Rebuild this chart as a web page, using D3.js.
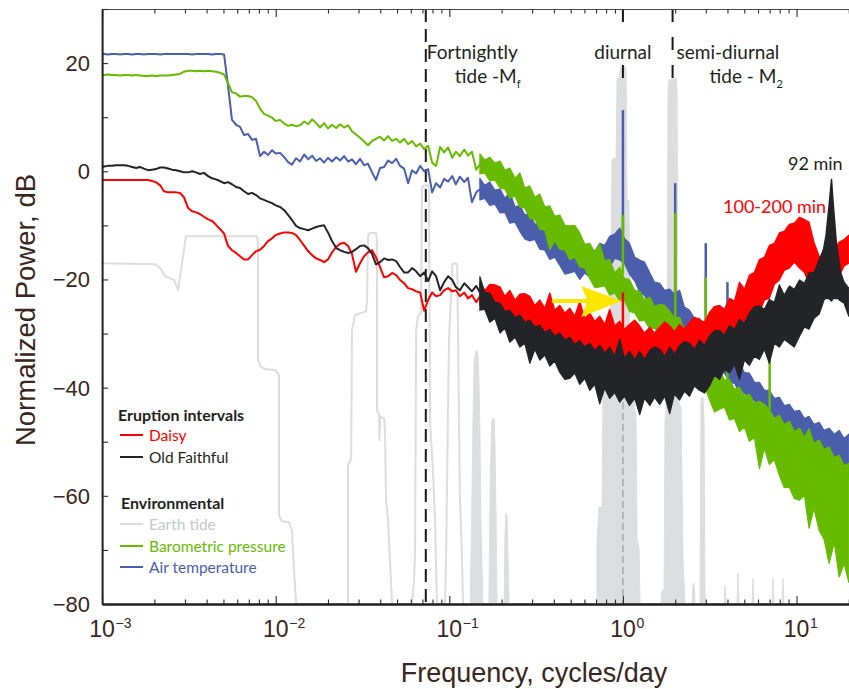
<!DOCTYPE html>
<html>
<head>
<meta charset="utf-8">
<title>Power spectra - geyser eruption intervals</title>
<script src="https://cdn.jsdelivr.net/npm/d3@7"></script>
<style>
  body { margin: 0; background: #ffffff; }
  svg { display: block; }
</style>
</head>
<body>
<div id="chartContainer"></div>
<script>
const ctx = {
    W: 849,
    H: 689,
    left: 102.1,
    right: 848.8,
    top: 9,
    bottom: 604,
    labelFont: "'Liberation Sans', Arial, Helvetica, sans-serif",
    noteFont: "Lato, 'Open Sans', sans-serif",
    tickColor: "#3a2521",
    inkColor: "#231f20"
};

const colors = {
    daisy: "#ff0000",
    faithful: "#232428",
    tide: "#dcddde",
    baro: "#66bb00",
    air: "#4a5eab",
    arrow: "#ffe600"
};

// ---- low frequency part, read every few pixels off the figure (cycles/day, dB)
const lowFreq = [0.001, 0.00103, 0.00108, 0.00114, 0.00120, 0.00127, 0.00134, 0.00141, 0.00149, 0.00157,
    0.00165, 0.00174, 0.00184, 0.00194, 0.00204, 0.00216, 0.00227, 0.00240, 0.00253, 0.00267,
    0.00281, 0.00296, 0.00313, 0.00330, 0.00348, 0.00366, 0.00386, 0.00408, 0.00430, 0.00453,
    0.00478, 0.00504, 0.00531, 0.00560, 0.00591, 0.00623, 0.00657, 0.00693, 0.00731, 0.00770,
    0.00812, 0.00857, 0.00903, 0.00953, 0.0100, 0.0106, 0.0112, 0.0118, 0.0124, 0.0131,
    0.0138, 0.0146, 0.0154, 0.0162, 0.0171, 0.0180, 0.0190, 0.0200, 0.0211, 0.0223,
    0.0235, 0.0248, 0.0261, 0.0275, 0.0290, 0.0306, 0.0323, 0.0340, 0.0359, 0.0378,
    0.0399, 0.0421, 0.0444, 0.0468, 0.0494, 0.0520, 0.0549, 0.0579, 0.0610, 0.0644,
    0.0679, 0.0716, 0.0755, 0.0796, 0.0839, 0.0885, 0.0933, 0.0984, 0.104, 0.109,
    0.115, 0.122, 0.128, 0.135, 0.143, 0.150];

const airLowDb = [21.7, 21.7, 21.6, 21.7, 21.7, 21.6, 21.7, 21.7, 21.6, 21.7,
    21.7, 21.6, 21.7, 21.7, 21.7, 21.6, 21.7, 21.7, 21.7, 21.7,
    21.7, 21.7, 21.7, 21.6, 21.7, 21.7, 21.7, 21.7, 21.6, 21.7,
    21.7, 21.6, 15.9,
    9.5, 8.6, 8.2, 6.7, 6.9, 5.8, 6.0, 2.8, 3.6, 3.0, 3.9, 3.3, 3.4, 2.6, 1.7, 1.2, 2.4, 1.8,
    3.1, 2.2, 2.9, 1.9, 2.4, 1.6, 2.5, 1.8, 2.6, 2.0, 2.8, 1.8, 2.2, 1.3, 2.3, 1.1, 1.4, -0.2,
    -1.6, 0.6, 0.8, 2.0, 1.5, 2.3, 1.0, 0.5, -2.2, 0.2, -0.4, 1.0, 0.0, 0.4, -3.9, -2.2,
    -3.0, -1.4, -1.9, -0.9, -2.4, -1.0, -2.0, -1.2, -5.7, -3.9, -3.3];

const baroLowDb = [17.8, 17.8, 17.9, 17.8, 17.8, 17.7, 17.8, 17.8, 17.7, 17.8, 17.7,
    17.6, 17.6, 17.7, 17.6, 17.7, 17.7, 17.7, 17.8, 17.9,
    18.0, 18.4, 18.6, 18.6, 18.5, 18.6, 18.5, 18.6, 18.5, 18.4, 18.2, 17.9,
    16.3,
    14.6, 14.4, 13.8, 13.9, 13.9, 13.7, 13.0, 11.6, 10.6, 10.3, 9.9, 9.3, 9.5, 8.8, 8.4, 8.6, 8.3, 8.5,
    9.2, 8.7, 9.6, 8.9, 8.1, 8.9, 7.9, 8.6, 8.0, 8.7, 8.1, 8.5, 7.4, 6.8, 6.2, 5.5, 4.8, 5.6,
    6.0, 6.4, 5.7, 6.5, 5.6, 6.0, 5.3, 6.0, 5.0, 5.6, 4.6, 5.1, 4.1, 4.7, 1.6, 1.0,
    4.5, 3.5, 4.4, 2.5, 3.6, 2.8, 4.0, 2.9, 3.6, 0.3, 1.3];

const daisyLowDb = [-1.6, -1.6, -1.6, -1.6, -1.6, -1.6, -1.6, -1.6, -1.6, -1.6, -1.6, -1.6, -1.6,
    -1.8, -2.0, -2.6, -3.7, -3.9, -3.9, -3.9, -4.0, -4.8, -6.8, -7.4, -7.6, -7.9, -8.4, -8.9, -9.2,
    -9.9, -10.7, -11.5,
    -13.8,
    -14.6, -15.1, -15.7, -16.3, -16.3, -15.5, -14.8, -14.5, -13.8, -12.9, -12.4, -11.8, -11.5, -11.3,
    -11.3, -11.4, -11.8, -12.7,
    -13.8, -14.8, -15.5, -16.1, -16.4, -16.8, -16.3, -15.0, -14.0, -13.4, -13.2, -13.8, -15.3, -18.6,
    -17.0, -15.7, -15.0, -14.6, -15.9, -17.7, -19.6, -19.4, -18.8, -19.2, -20.1, -20.7, -21.6, -21.8,
    -22.2, -22.4, -25.8, -23.8, -22.4, -23.1, -22.9, -22.0, -21.6, -22.2, -22.0, -23.1, -22.4, -23.5,
    -22.9, -24.2, -23.1];

const faithfulLowDb = [0.8, 0.9, 1.0, 1.0, 1.1, 1.1, 1.1, 1.0, 0.8, 0.6, 0.8, 0.5, 0.2, 0.3, 0.4, 0.7,
    0.7, 0.5, 0.3, 0.2, 0.0, -0.2, -0.2, 0.0, -0.2, -0.5, -0.3, -0.9, -1.3, -1.5, -1.8, -2.2,
    -2.0,
    -2.4, -2.9, -3.1, -3.7, -4.2, -4.0, -4.4, -5.0, -5.3, -5.6, -5.9, -6.3, -6.6, -7.2, -8.1, -9.0,
    -10.1, -10.5,
    -10.7, -10.9, -10.6, -10.3, -10.1, -10.0, -11.3, -12.9, -14.2, -14.6, -14.9, -15.1, -14.9, -14.4,
    -13.8, -13.7, -14.2, -15.3, -17.2, -16.8, -16.1, -16.4, -16.3, -16.6, -17.7, -18.7, -18.7, -17.9,
    -18.5, -19.4, -18.7, -20.3, -18.5, -19.4, -22.0, -20.5, -19.4, -20.1, -21.4, -22.0, -20.7, -21.4,
    -22.2, -21.2, -22.4];

// ---- high frequency part: the traces are dense noise, kept as lower / upper envelope
const bandFreq = [0.150, 0.160, 0.171, 0.183, 0.196, 0.209, 0.223, 0.239, 0.255, 0.272,
    0.291, 0.311, 0.332, 0.355, 0.379, 0.405, 0.433, 0.463, 0.494, 0.528,
    0.564, 0.603, 0.644, 0.688, 0.735, 0.786, 0.839, 0.897, 0.958, 1.02,
    1.09, 1.17, 1.25, 1.33, 1.43, 1.52, 1.63, 1.74, 1.86, 1.98,
    2.12, 2.26, 2.42, 2.58, 2.76, 2.95, 3.15, 3.37, 3.60, 3.84,
    4.11, 4.39, 4.69, 5.01, 5.35, 5.72, 6.11, 6.53, 6.97, 7.45,
    7.96, 8.50, 9.09, 9.71, 10.4, 11.1, 11.8, 12.6, 13.5, 14.4,
    15.4, 16.5, 17.6, 18.8, 20.0];

const airHi = [-1.3, -2.6, -2.0, -3.5, -3.3, -5.0, -3.8, -6.6, -6.3, -8.1,
    -7.7, -9.8, -9.4, -11.3, -10.9, -11.0, -12.2, -14.0, -13.5, -15.1,
    -14.6, -15.5, -14.2, -14.8, -13.3, -13.7, -12.0, -11.6, -10.5, -12.4,
    -13.3, -15.9, -16.4, -16.8, -18.8, -20.5, -20.7, -22.0, -21.8, -22.7,
    -22.0, -25.1, -25.7, -27.2, -27.2, -29.0, -29.4, -31.2, -31.6, -33.5,
    -33.6, -35.3, -35.5, -37.2, -37.3, -39.0, -39.0, -40.5, -40.5, -42.0,
    -41.8, -43.3, -43.1, -44.4, -44.2, -45.7, -45.3, -46.8, -46.4, -47.9,
    -47.5, -48.6, -47.9, -49.4, -48.6];
const airLo = [-5.3, -5.0, -6.3, -6.1, -7.7, -7.6, -9.6, -9.4, -11.1, -12.5,
    -12.9, -12.6, -14.4, -14.6, -16.3, -15.9, -17.4, -19.0, -18.8, -18.5,
    -20.0, -18.8, -19.6, -18.3, -18.8, -17.4, -17.7, -16.1, -16.4, -17.0,
    -19.0, -20.3, -22.4, -22.9, -24.8, -25.3, -28.5, -26.6, -27.9, -27.5,
    -29.4, -29.4, -30.9, -30.9, -32.5, -33.1, -34.9, -35.3, -37.2, -37.3,
    -39.0, -39.2, -40.9, -41.0, -42.3, -42.3, -43.8, -43.8, -45.3, -45.3,
    -46.8, -46.8, -48.3, -48.3, -49.7, -49.7, -51.2, -51.2, -52.7, -52.7,
    -54.2, -54.2, -55.3, -55.7, -56.8];

const baroHi = [3.2, 2.1, 2.6, 1.5, 1.9, 0.2, 0.6, -1.3, -0.3, -3.1,
    -2.7, -4.8, -4.2, -6.6, -6.4, -8.3, -8.1, -10.0, -10.1, -10.0,
    -11.4, -13.5, -13.3, -15.0, -13.4, -16.6, -16.3, -18.8, -17.7, -19.8,
    -20.0, -22.0, -22.2, -23.7, -23.3, -25.0, -24.6, -24.8, -25.9, -27.2,
    -27.0, -29.4, -29.9, -32.3, -31.8, -35.1, -34.9, -37.0, -36.6, -38.6,
    -38.5, -40.3, -39.9, -41.6, -41.2, -42.9, -42.5, -43.1, -44.0, -45.7,
    -45.1, -46.8, -46.2, -48.1, -47.5, -49.2, -47.6, -50.3, -49.7, -51.4,
    -51.0, -52.9, -52.5, -54.4, -54.0];
const baroLo = [-0.5, -0.3, -1.8, -1.6, -3.1, -3.3, -5.0, -4.6, -6.6, -6.8,
    -8.7, -8.9, -10.7, -10.9, -14.5, -12.9, -14.4, -14.6, -16.3, -15.9,
    -17.7, -17.9, -19.8, -21.5, -21.4, -21.2, -22.9, -22.5, -24.0, -23.8,
    -25.9, -26.2, -27.7, -27.5, -29.2, -29.0, -30.3, -29.9, -31.2, -30.9,
    -32.7, -33.1, -36.0, -36.8, -39.4, -39.7, -42.2, -44.5, -44.0, -43.6,
    -46.0, -45.7, -48.1, -47.3, -49.9, -49.2, -55.0, -51.2, -54.2, -53.3,
    -56.2, -58.5, -58.4, -60.5, -60.8, -59.9, -66.0, -62.3, -66.4, -68.0,
    -72.5, -68.6, -75.0, -72.5, -76.0];

const daisyHi = [-20.5, -22.0, -20.9, -21.0, -21.4, -23.1, -22.0, -23.8, -22.7, -22.6,
    -23.1, -24.8, -23.8, -25.3, -22.5, -25.7, -24.8, -26.2, -25.3, -26.8,
    -24.0, -27.2, -26.2, -27.7, -26.8, -28.3, -25.5, -28.6, -27.7, -29.2,
    -28.3, -27.5, -28.6, -29.9, -28.8, -29.9, -28.8, -27.8, -28.6, -29.6,
    -28.3, -29.2, -27.9, -27.0, -27.4, -27.9, -26.1, -25.0, -24.8, -25.5,
    -23.5, -24.0, -20.5, -21.8, -19.2, -18.7, -16.3, -15.9, -13.7, -13.3,
    -11.4, -11.1, -9.8, -9.6, -8.5, -8.9, -9.4, -13.1, -15.7, -17.0,
    -15.3, -14.6, -13.1, -12.6, -11.8];
const daisyLo = [-24.8, -24.6, -25.9, -25.7, -27.5, -29.0, -28.5, -27.9, -29.2, -28.6,
    -29.9, -29.4, -32.5, -30.1, -31.4, -30.9, -32.2, -31.6, -34.5, -32.2,
    -33.3, -32.5, -33.6, -33.1, -34.2, -35.5, -34.6, -33.8, -34.9, -34.2,
    -35.3, -34.4, -35.5, -37.0, -35.5, -34.6, -35.5, -34.6, -35.3, -34.2,
    -37.0, -34.0, -34.9, -33.8, -34.6, -32.9, -35.5, -32.2, -32.7, -31.1,
    -33.5, -30.1, -30.5, -28.5, -28.6, -26.4, -26.2, -23.8, -23.5, -20.9,
    -20.1, -18.3, -17.9, -16.8, -17.9, -18.7, -20.7, -21.4, -22.7, -22.5,
    -23.3, -21.6, -19.4, -17.5, -17.0];

const faithfulHi = [-19.5, -22.4, -22.5, -24.2, -24.4, -25.9, -25.7, -27.0, -26.6, -27.9,
    -27.5, -28.8, -28.5, -29.8, -29.2, -30.5, -29.9, -31.2, -30.7, -32.0,
    -31.3, -32.5, -31.8, -33.1, -32.2, -33.6, -32.5, -34.2, -31.0, -34.6,
    -33.3, -34.8, -33.3, -34.8, -33.1, -32.5, -32.9, -34.2, -32.5, -33.8,
    -32.2, -31.5, -31.8, -32.9, -31.2, -32.2, -30.5, -29.5, -29.4, -30.3,
    -28.5, -29.2, -27.4, -28.1, -26.2, -25.0, -24.9, -25.5, -23.7, -24.2,
    -21.0, -22.9, -21.2, -21.8, -20.1, -20.7, -18.8, -18.7, -16.4, -14.2,
    -14.5, -15.5, -17.9, -20.5, -21.6];
const faithfulLo = [-25.7, -25.5, -27.9, -27.2, -29.9, -29.0, -31.6, -30.7, -32.5, -31.8,
    -35.5, -32.9, -34.9, -34.0, -36.0, -35.1, -37.2, -38.5, -38.3, -37.3,
    -39.4, -38.3, -40.5, -39.4, -43.0, -40.1, -42.0, -40.9, -42.7, -41.6,
    -43.3, -42.0, -45.0, -42.0, -43.3, -41.8, -43.1, -41.6, -44.8, -41.2,
    -42.3, -40.7, -41.6, -39.7, -40.5, -41.0, -39.7, -37.7, -38.5, -36.6,
    -37.3, -35.7, -38.5, -34.9, -35.9, -34.2, -34.8, -32.9, -35.5, -31.8,
    -32.5, -31.1, -31.8, -32.5, -30.5, -28.8, -29.2, -27.2, -26.4, -23.8,
    -22.0, -21.6, -23.8, -24.4, -26.8];

// Old Faithful 92 min peak
const peakFreq = [14.0, 14.8, 15.4, 15.9, 16.2, 16.9, 17.8];
const peakHi = [-16.1, -11.8, -6.3, -1.5, -5.3, -12.7, -17.9];
const peakLo = [-23.5, -23.5, -23.5, -24.0, -23.5, -23.5, -23.5];

// narrow tidal lines in the environmental records
const airSpikeFreq = [1.0, 2.0, 3.0, 4.0];
const airSpikeTop = [11.3, -2.2, -13.3, -20.5];
const airSpikeBase = [-14.0, -24.0, -31.0, -35.0];
const baroSpikeFreq = [1.0, 2.0, 3.0, 4.0, 7.0];
const baroSpikeTop = [-8.1, -7.7, -19.6, -25.7, -34.4];
const baroSpikeBase = [-19.0, -30.7, -37.0, -40.0, -44.0];
const daisySpikeFreq = [1.0];
const daisySpikeTop = [-22.4];
const daisySpikeBase = [-29.0];

// earth tide, outline part
const tideLineFreq = [0.001, 0.00202, 0.00216, 0.00230, 0.00246, 0.00260, 0.00274, 0.00289, 0.00304, 0.00780,
    0.00791, 0.00791, 0.00823, 0.00879, 0.0100, 0.01045, 0.01045, 0.01087, 0.01193, 0.0124,
    0.01275, 0.0131, 0.0254, 0.0261, 0.0261, 0.0272, 0.0275, 0.0286, 0.0331, 0.0336,
    0.0340, 0.0349, 0.0378, 0.0383, 0.0383, 0.0394, 0.0396, 0.0399, 0.0421, 0.0426,
    0.0432, 0.0444, 0.0455, 0.0468, 0.0610, 0.0626, 0.0635, 0.0644, 0.0660, 0.0687,
    0.0696, 0.0716, 0.0755, 0.0764, 0.0774, 0.0784, 0.0805, 0.0827, 0.0849, 0.0945,
    0.0957, 0.0970, 0.0984, 0.0996, 0.102, 0.104, 0.106, 0.111, 0.112, 0.114,
    0.115, 0.118, 0.120];
const tideLineDb = [-17.0, -17.2, -17.9, -19.4, -19.8, -20.1, -22.0, -16.8, -12.0, -12.0,
    -13.1, -34.9, -36.2, -36.6, -36.8, -37.7, -63.6, -64.7, -64.9, -66.4,
    -73.8, -80, -80, -80, -54.4, -53.1, -29.4, -26.6, -25.9, -23.8,
    -12.0, -11.4, -11.4, -12.7, -44.2, -44.9, -49.7, -45.3, -45.7, -47.9,
    -60.8, -64.5, -71.9, -80, -80, -75.6, -70.6, -29.4, -26.8, -26.2,
    -2.9, -2.6, -2.6, -3.5, -46.0, -49.2, -55.3, -64.5, -80, -80,
    -71.9, -58.4, -42.3, -31.2, -23.8, -17.4, -17.0, -17.2, -27.5, -49.7,
    -59.5, -70.1, -80];

// earth tide, dense clusters (filled down to the axis)
const tideFillFreq = [0.132, 0.135, 0.137, 0.139, 0.143, 0.146, 0.148, 0.150, 0.152, 0.156,
    0.169, 0.172, 0.176, 0.181, 0.183, 0.186, 0.188,
    0.207, 0.209, 0.212, 0.215, 0.218, 0.221,
    0.709, 0.709, 0.728, 0.758, 0.768, 0.789, 0.843, 0.865, 0.889, 0.913, 0.925, 0.950, 0.975,
    1.028, 1.042, 1.056, 1.084, 1.099, 1.128, 1.159, 1.190, 1.206, 1.238, 1.255,
    1.658, 1.680, 1.725, 1.748, 1.795, 1.819, 1.843, 2.023, 2.050, 2.077, 2.161, 2.219, 2.279,
    2.501, 2.534, 2.568, 2.602,
    2.780, 2.818, 2.855, 2.893, 2.932, 2.971,
    3.822, 3.873, 3.925, 4.543, 4.604, 4.665, 5.542, 5.616, 5.691,
    7.225, 7.321, 7.419, 8.250, 8.360, 8.472];
const tideFillDb = [-80, -60.8, -46.0, -34.9, -33.1, -33.5, -38.6, -47.8, -64.5, -80,
    -80, -57.1, -46.0, -45.7, -49.7, -64.5, -80,
    -80, -68.2, -63.2, -63.8, -71.9, -80,
    -80, -68.2, -62.1, -62.1, -42.3, -38.3, -37.9, 2.1, 2.4, 2.4, 16.9, 17.2, 19.3,
    19.5, 18.7, -5.3, -5.3, -38.6, -41.8, -42.3, -46.0, -68.2, -69.5, -80,
    -80, -77.5, -77.5, -46.0, -42.7, 15.0, 16.9, 17.2, 15.0, -42.3, -43.8, -71.9, -80,
    -80, -76.2, -76.2, -80,
    -80, -42.3, -41.8, -41.8, -46.0, -80,
    -80, -76.6, -80, -80, -74.3, -80, -80, -75.3, -80,
    -80, -75.3, -80, -80, -75.3, -80];

// tidal constituents marked with dashed lines
const fortnightlyFreq = 0.0732;
const diurnalFreq = 1.0;
const semidiurnalFreq = 1.932;

// yellow arrow pointing at the diurnal peak of Daisy
const arrowFrom = 0.39;
const arrowTo = 0.98;
const arrowDb = -24.0;

const xTickValues = [0.001, 0.01, 0.1, 1, 10];
const xTickExp = ["\u22123", "\u22122", "\u22121", "0", "1"];
const yTickLabels = [-80, -60, -40, -20, 0, 20];

let x, y;

function createViz() {
    console.log("Using D3 v" + d3.version);
    const svg = d3.select("#chartContainer").append("svg")
        .attr("width", ctx.W)
        .attr("height", ctx.H)
        .style("background", "#fff");

    x = d3.scaleLog().domain([0.001, 20]).range([ctx.left, ctx.right]);
    y = d3.scaleLinear().domain([-80, 30]).range([ctx.bottom, ctx.top]);

    svg.append("defs").append("clipPath").attr("id", "plotClip")
        .append("rect")
        .attr("x", ctx.left).attr("y", ctx.top)
        .attr("width", ctx.W - ctx.left).attr("height", ctx.bottom - ctx.top);

    const plot = svg.append("g").attr("clip-path", "url(#plotClip)");

    drawTide(plot);
    drawTideMarkers(plot);

    drawSeries(plot, {color: colors.air, low: airLowDb, hi: airHi, lo: airLo,
        spikeFreq: airSpikeFreq, spikeTop: airSpikeTop, spikeBase: airSpikeBase});
    drawSeries(plot, {color: colors.baro, low: baroLowDb, hi: baroHi, lo: baroLo,
        spikeFreq: baroSpikeFreq, spikeTop: baroSpikeTop, spikeBase: baroSpikeBase});
    drawSeries(plot, {color: colors.daisy, low: daisyLowDb, hi: daisyHi, lo: daisyLo,
        spikeFreq: daisySpikeFreq, spikeTop: daisySpikeTop, spikeBase: daisySpikeBase});
    drawSeries(plot, {color: colors.faithful, low: faithfulLowDb, hi: faithfulHi, lo: faithfulLo,
        spikeFreq: [], spikeTop: [], spikeBase: []});

    // 92 min peak of Old Faithful
    plot.append("path")
        .datum(d3.zip(peakFreq, peakLo, peakHi))
        .attr("d", d3.area().x(d => x(d[0])).y0(d => y(d[1])).y1(d => y(d[2])))
        .attr("fill", colors.faithful)
        .attr("stroke", colors.faithful)
        .attr("stroke-width", 1.5)
        .attr("stroke-linejoin", "round");

    drawArrow(plot);
    drawAxes(svg);
    drawNotes(svg);
    drawLegend(svg);
}

function drawTide(g) {
    const line = d3.line().x(d => x(d[0])).y(d => y(d[1]));
    g.append("path")
        .datum(d3.zip(tideLineFreq, tideLineDb))
        .attr("d", line)
        .attr("fill", "none")
        .attr("stroke", colors.tide)
        .attr("stroke-width", 2)
        .attr("stroke-linejoin", "round");

    const area = d3.area().x(d => x(d[0])).y0(y(-80)).y1(d => y(d[1]));
    g.append("path")
        .datum(d3.zip(tideFillFreq, tideFillDb))
        .attr("d", area)
        .attr("fill", colors.tide)
        .attr("stroke", colors.tide)
        .attr("stroke-width", 1);
}

function drawTideMarkers(g) {
    // Mf, full height
    g.append("line")
        .attr("x1", x(fortnightlyFreq)).attr("x2", x(fortnightlyFreq))
        .attr("y1", y(30)).attr("y2", y(-80))
        .attr("stroke", "#1a1a1a").attr("stroke-width", 2)
        .attr("stroke-dasharray", "13,7");

    // diurnal: two dashes above the peak, thin grey dashes inside the tide cluster
    g.append("line")
        .attr("x1", x(diurnalFreq)).attr("x2", x(diurnalFreq))
        .attr("y1", y(30)).attr("y2", y(17))
        .attr("stroke", "#1a1a1a").attr("stroke-width", 2)
        .attr("stroke-dasharray", "13,43");
    g.append("line")
        .attr("x1", x(diurnalFreq)).attr("x2", x(diurnalFreq))
        .attr("y1", y(-38.6)).attr("y2", y(-80))
        .attr("stroke", "#8e8e8e").attr("stroke-width", 1)
        .attr("stroke-dasharray", "7,4");

    // M2
    g.append("line")
        .attr("x1", x(semidiurnalFreq)).attr("x2", x(semidiurnalFreq))
        .attr("y1", y(30)).attr("y2", y(17))
        .attr("stroke", "#1a1a1a").attr("stroke-width", 2)
        .attr("stroke-dasharray", "13,15");
}

function drawSeries(g, s) {
    const line = d3.line().x(d => x(d[0])).y(d => y(d[1]));
    const band = d3.area().x(d => x(d[0])).y0(d => y(d[1])).y1(d => y(d[2]));

    g.append("path")
        .datum(d3.zip(lowFreq, s.low))
        .attr("d", line)
        .attr("fill", "none")
        .attr("stroke", s.color)
        .attr("stroke-width", 2)
        .attr("stroke-linejoin", "round");

    g.append("path")
        .datum(d3.zip(bandFreq, s.lo, s.hi))
        .attr("d", band)
        .attr("fill", s.color)
        .attr("stroke", s.color)
        .attr("stroke-width", 1.2)
        .attr("stroke-linejoin", "round");

    g.selectAll(null)
        .data(d3.zip(s.spikeFreq, s.spikeTop, s.spikeBase))
        .join("line")
        .attr("x1", d => x(d[0])).attr("x2", d => x(d[0]))
        .attr("y1", d => y(d[1])).attr("y2", d => y(d[2]))
        .attr("stroke", s.color)
        .attr("stroke-width", 2.5);
}

function drawArrow(g) {
    const x0 = x(arrowFrom), x1 = x(arrowTo), yy = y(arrowDb);
    g.append("line")
        .attr("x1", x0).attr("x2", x1 - 30)
        .attr("y1", yy).attr("y2", yy)
        .attr("stroke", colors.arrow).attr("stroke-width", 4);
    g.append("path")
        .attr("d", `M${x1},${yy} L${x1 - 40},${yy - 15} L${x1 - 34},${yy} L${x1 - 40},${yy + 16} Z`)
        .attr("fill", colors.arrow);
}

function drawAxes(svg) {
    const minors = [];
    xTickValues.forEach(d => {
        for (let m = 2; m <= 9; m++) {
            if (d * m <= 20) minors.push(d * m);
        }
    });

    const bottom = svg.append("g").attr("transform", `translate(0,${ctx.bottom})`);
    bottom.append("g").call(d3.axisBottom(x).tickValues(minors).tickSizeInner(-4.5).tickSizeOuter(0).tickFormat(""));
    bottom.append("g").call(d3.axisBottom(x).tickValues(xTickValues).tickSizeInner(-8).tickSizeOuter(0).tickFormat(""));

    const top = svg.append("g").attr("transform", `translate(0,${ctx.top})`);
    top.append("g").call(d3.axisTop(x).tickValues(minors).tickSizeInner(-4.5).tickSizeOuter(0).tickFormat(""));
    top.append("g").call(d3.axisTop(x).tickValues(xTickValues).tickSizeInner(-8).tickSizeOuter(0).tickFormat(""));

    const left = svg.append("g").attr("transform", `translate(${ctx.left},0)`);
    left.call(d3.axisLeft(y).tickValues(d3.range(-80, 31, 10)).tickSizeInner(-6).tickSizeOuter(0).tickFormat(""));

    svg.selectAll(".tick line").attr("stroke", "#2a2a2a").attr("stroke-width", 1.1);
    bottom.selectAll(".domain").attr("stroke", "#1e1e1e").attr("stroke-width", 2.2);
    top.selectAll(".domain").attr("stroke", "#4a4a4a").attr("stroke-width", 1.2);
    left.select(".domain").attr("stroke", "#1e1e1e").attr("stroke-width", 2);

    // x tick labels 10^n
    const xl = svg.append("g")
        .attr("font-family", ctx.labelFont)
        .attr("fill", ctx.tickColor);
    xTickValues.forEach((v, i) => {
        xl.append("text")
            .attr("x", x(v)).attr("y", 637)
            .attr("text-anchor", "middle")
            .attr("font-size", 23)
            .text("10");
        xl.append("text")
            .attr("x", x(v) + 13.5).attr("y", 628)
            .attr("font-size", 14)
            .text(xTickExp[i]);
    });

    // y tick labels
    svg.append("g")
        .attr("font-family", ctx.labelFont)
        .attr("fill", ctx.tickColor)
        .attr("font-size", 22)
        .attr("text-anchor", "end")
        .selectAll("text")
        .data(yTickLabels)
        .join("text")
        .attr("x", 90)
        .attr("y", d => y(d) + 8)
        .text(d => d < 0 ? "\u2212" + (-d) : d);

    // titles
    svg.append("text")
        .attr("x", 534).attr("y", 682)
        .attr("text-anchor", "middle")
        .attr("font-family", ctx.labelFont)
        .attr("font-size", 27)
        .attr("fill", ctx.tickColor)
        .text("Frequency, cycles/day");

    svg.append("text")
        .attr("transform", "translate(35,310) rotate(-90)")
        .attr("text-anchor", "middle")
        .attr("font-family", ctx.labelFont)
        .attr("font-size", 27.5)
        .attr("fill", ctx.tickColor)
        .text("Normalized Power, dB");
}

function drawNotes(svg) {
    const g = svg.append("g")
        .attr("font-family", ctx.noteFont)
        .attr("font-size", 19)
        .attr("fill", ctx.inkColor);

    const xf = x(fortnightlyFreq), xd = x(diurnalFreq), xs = x(semidiurnalFreq);

    g.append("text").attr("x", xf + 1).attr("y", 59).text("Fortnightly");
    const t1 = g.append("text").attr("x", xf + 29).attr("y", 83);
    t1.append("tspan").text("tide -M");
    t1.append("tspan").attr("font-size", 11).attr("dy", 5).text("f");

    g.append("text").attr("x", xd).attr("y", 59).attr("text-anchor", "middle").text("diurnal");

    g.append("text").attr("x", xs + 4).attr("y", 59).text("semi-diurnal");
    const t2 = g.append("text").attr("x", xs + 37).attr("y", 83);
    t2.append("tspan").text("tide - M");
    t2.append("tspan").attr("font-size", 11).attr("dy", 5).text("2");

    g.append("text").attr("x", 788).attr("y", 170).attr("font-size", 18).text("92 min");
    g.append("text").attr("x", 723).attr("y", 213).attr("font-size", 18)
        .attr("fill", colors.daisy).text("100-200 min");
}

function drawLegend(svg) {
    const g = svg.append("g")
        .attr("font-family", ctx.noteFont)
        .attr("font-size", 15.5);

    g.append("text").attr("x", 118).attr("y", 421)
        .attr("font-weight", "bold").attr("font-size", 16)
        .attr("fill", ctx.inkColor).text("Eruption intervals");
    g.append("text").attr("x", 121).attr("y", 508.5)
        .attr("font-weight", "bold").attr("font-size", 16)
        .attr("fill", ctx.inkColor).text("Environmental");

    const items = [
        {label: "Daisy", color: colors.daisy, text: colors.daisy, y: 435},
        {label: "Old Faithful", color: colors.faithful, text: ctx.inkColor, y: 457},
        {label: "Earth tide", color: colors.tide, text: "#c6c7c9", y: 524},
        {label: "Barometric pressure", color: colors.baro, text: colors.baro, y: 546},
        {label: "Air temperature", color: colors.air, text: colors.air, y: 567}
    ];
    items.forEach(it => {
        g.append("line")
            .attr("x1", 120).attr("x2", 143)
            .attr("y1", it.y).attr("y2", it.y)
            .attr("stroke", it.color).attr("stroke-width", 2);
        g.append("text")
            .attr("x", 149).attr("y", it.y + 6)
            .attr("fill", it.text)
            .text(it.label);
    });
}

createViz();
</script>
</body>
</html>
